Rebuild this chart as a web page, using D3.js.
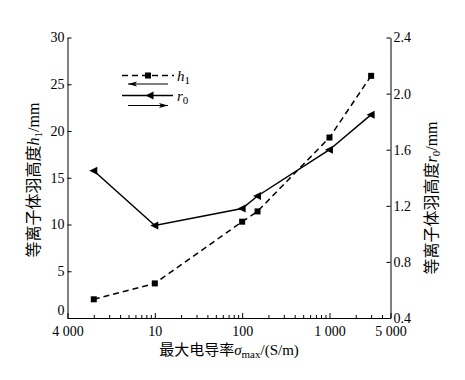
<!DOCTYPE html>
<html>
<head>
<meta charset="utf-8">
<script src="https://cdn.jsdelivr.net/npm/d3@7/dist/d3.min.js"></script>
<style>
  body { margin: 0; background: #fff; }
  svg { font-family: "Liberation Serif", "Times New Roman", serif; }
  .axis path, .axis line { stroke: #000; stroke-width: 1; }
  .axis text { font-size: 14px; fill: #000; font-family: "Liberation Serif", serif; }
  .cjk { font-family: "Noto Sans CJK SC", sans-serif; }
</style>
</head>
<body>
<svg id="chart" width="465" height="380"></svg>
<script>
// conductivity (S/m) and measured values
var sigma = [2, 10, 100, 150, 1000, 3000];
var h1 = [2.0, 3.7, 10.3, 11.4, 19.3, 25.9];      // mm, left axis
var r0 = [1.45, 1.06, 1.18, 1.27, 1.60, 1.85];    // mm, right axis

var xTicks = [1, 10, 100, 1000, 5000];
var xTickLabels = ["4 000", "10", "100", "1 000", "5 000"];
var leftTicks = [0, 5, 10, 15, 20, 25, 30];
var rightTicks = [0.4, 0.8, 1.2, 1.6, 2.0, 2.4];

var svg = d3.select("#chart");
var pLeft = 67.5, pRight = 390.5, pTop = 37.5, pBottom = 318;

var x = d3.scaleLog().domain([1, 5000]).range([pLeft, pRight]);
var yL = d3.scaleLinear().domain([0, 30]).range([pBottom, pTop]);
var yR = d3.scaleLinear().domain([0.4, 2.4]).range([pBottom, pTop]);

// minor ticks 2..9 of each decade
var minor = [];
[1, 10, 100, 1000].forEach(function(d) {
  for (var k = 2; k <= 9; k++) if (d * k < 5000) minor.push(d * k);
});

svg.append("g").attr("class", "axis")
    .attr("transform", "translate(0," + pBottom + ")")
    .call(d3.axisBottom(x).tickValues(minor).tickSize(-3).tickFormat(""))
    .select(".domain").remove();

svg.append("g").attr("class", "axis")
    .attr("transform", "translate(0," + pBottom + ")")
    .call(d3.axisBottom(x).tickValues(xTicks).tickSizeInner(-5).tickSizeOuter(0).tickPadding(8)
      .tickFormat(function(d, i) { return xTickLabels[i]; }));

var gL = svg.append("g").attr("class", "axis")
    .attr("transform", "translate(" + pLeft + ",0)")
    .call(d3.axisLeft(yL).tickValues(leftTicks).tickSizeInner(-4).tickSizeOuter(0).tickPadding(3));
// the 0 label sits a little above the axis line
gL.selectAll(".tick text").filter(function(d) { return d === 0; }).attr("dy", "-0.0em");

svg.append("g").attr("class", "axis")
    .attr("transform", "translate(" + pRight + ",0)")
    .call(d3.axisRight(yR).tickValues(rightTicks).tickSizeInner(-4).tickSizeOuter(0).tickPadding(3)
      .tickFormat(d3.format(".1f")));

// lines
var lineH = d3.line().x(function(d, i) { return x(sigma[i]); }).y(function(d) { return yL(d); });
var lineR = d3.line().x(function(d, i) { return x(sigma[i]); }).y(function(d) { return yR(d); });

svg.append("path").datum(h1)
    .attr("d", lineH).attr("fill", "none").attr("stroke", "#000")
    .attr("stroke-width", 1.5).attr("stroke-dasharray", "6,4");

svg.append("path").datum(r0)
    .attr("d", lineR).attr("fill", "none").attr("stroke", "#000")
    .attr("stroke-width", 1.5);

var tri = "M-4.5,0L3.5,-4L3.5,4Z";

svg.selectAll(".sq").data(h1).enter().append("rect")
    .attr("x", function(d, i) { return x(sigma[i]) - 3; })
    .attr("y", function(d) { return yL(d) - 3; })
    .attr("width", 6).attr("height", 6).attr("fill", "#000");

svg.selectAll(".tri").data(r0).enter().append("path")
    .attr("d", tri)
    .attr("transform", function(d, i) { return "translate(" + x(sigma[i]) + "," + yR(d) + ")"; })
    .attr("fill", "#000");

// legend
var lg = svg.append("g");
lg.append("line").attr("x1", 122).attr("x2", 174).attr("y1", 75.5).attr("y2", 75.5)
    .attr("stroke", "#000").attr("stroke-width", 1.5).attr("stroke-dasharray", "6,4");
lg.append("rect").attr("x", 145).attr("y", 72.5).attr("width", 6).attr("height", 6);
lg.append("line").attr("x1", 122).attr("x2", 173).attr("y1", 95.5).attr("y2", 95.5)
    .attr("stroke", "#000").attr("stroke-width", 1.5);
lg.append("path").attr("d", tri).attr("transform", "translate(150,95.5)");

// arrows
function arrow(x1, x2, y) {
  lg.append("line").attr("x1", x1).attr("x2", x2).attr("y1", y).attr("y2", y)
      .attr("stroke", "#000").attr("stroke-width", 1);
  var dir = x2 > x1 ? 1 : -1;
  lg.append("path")
      .attr("d", "M" + x2 + "," + y + "L" + (x2 - dir * 9) + "," + (y - 2.5) + "L" + (x2 - dir * 7) + "," + y +
        "L" + (x2 - dir * 9) + "," + (y + 2.5) + "Z")
      .attr("fill", "#000");
}
arrow(168, 128, 84);
arrow(128, 168, 105.5);

function label(g, xx, yy, sym, sub) {
  var t = g.append("text").attr("x", xx).attr("y", yy).attr("font-size", 15);
  t.append("tspan").attr("font-style", "italic").text(sym);
  t.append("tspan").attr("dy", 3).attr("font-size", 11).text(sub);
}
label(lg, 177, 80.5, "h", "1");
label(lg, 177, 100.5, "r", "0");

// axis titles
var xt = svg.append("text").attr("x", 229).attr("y", 355).attr("text-anchor", "middle").attr("font-size", 15);
xt.append("tspan").attr("class", "cjk").text("最大电导率");
xt.append("tspan").attr("font-style", "italic").text("σ");
xt.append("tspan").attr("dy", 3).attr("font-size", 11).text("max");
xt.append("tspan").attr("dy", -3).text("/(S/m)");

function yTitle(cx, cy, sym, sub) {
  var t = svg.append("text").attr("transform", "translate(" + cx + "," + cy + ")rotate(-90)")
      .attr("text-anchor", "middle").attr("font-size", 16);
  t.append("tspan").attr("class", "cjk").text("等离子体羽高度");
  t.append("tspan").attr("font-style", "italic").text(sym);
  t.append("tspan").attr("dy", 3).attr("font-size", 11).text(sub);
  t.append("tspan").attr("dy", -3).text("/mm");
}
yTitle(39, 180, "h", "1");
yTitle(437, 198, "r", "0");

// nudge the 0 label up so it clears the x tick labels
gL.selectAll(".tick text").filter(function(d) { return d === 0; })
    .attr("transform", "translate(0,-4)");
</script>
</body>
</html>
